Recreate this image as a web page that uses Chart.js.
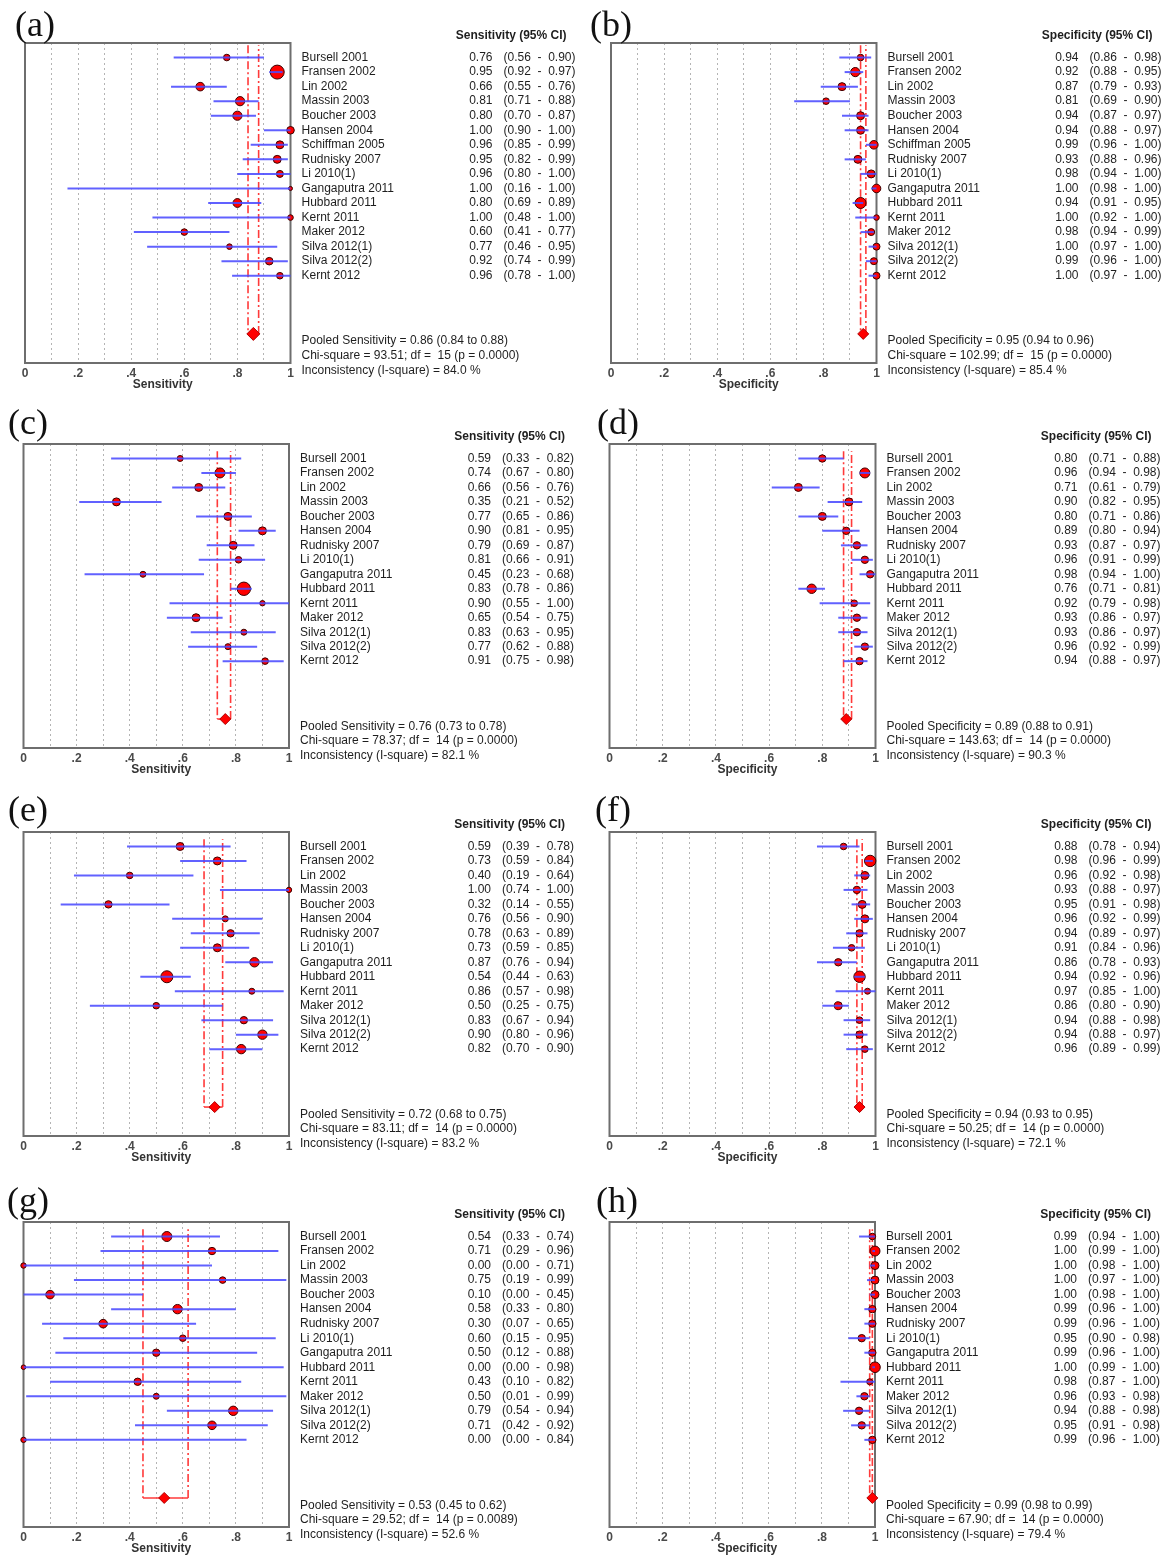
<!DOCTYPE html>
<html><head><meta charset="utf-8">
<script src="https://cdn.jsdelivr.net/npm/chart.js@4.4.1/dist/chart.umd.min.js"></script>
<style>
html,body{margin:0;padding:0;background:#fff;}
#wrap{position:relative;width:1166px;height:1559px;overflow:hidden;background:#fff;}
canvas{position:absolute;}
</style></head><body><div id="wrap"></div>
<script>
// ---------------- DATA ----------------
const studies16 = ['Bursell 2001','Fransen 2002','Lin 2002','Massin 2003','Boucher 2003','Hansen 2004','Schiffman 2005','Rudnisky 2007','Li 2010(1)','Gangaputra 2011','Hubbard 2011','Kernt 2011','Maker 2012','Silva 2012(1)','Silva 2012(2)','Kernt 2012'];
const studies15 = ['Bursell 2001','Fransen 2002','Lin 2002','Massin 2003','Boucher 2003','Hansen 2004','Rudnisky 2007','Li 2010(1)','Gangaputra 2011','Hubbard 2011','Kernt 2011','Maker 2012','Silva 2012(1)','Silva 2012(2)','Kernt 2012'];
const xTickLabels = ['0','.2','.4','.6','.8','1'];

// (a) sensitivity
const aVal = [0.76,0.95,0.66,0.81,0.80,1.00,0.96,0.95,0.96,1.00,0.80,1.00,0.60,0.77,0.92,0.96];
const aLo  = [0.56,0.92,0.55,0.71,0.70,0.90,0.85,0.82,0.80,0.16,0.69,0.48,0.41,0.46,0.74,0.78];
const aHi  = [0.90,0.97,0.76,0.88,0.87,1.00,0.99,0.99,1.00,1.00,0.89,1.00,0.77,0.95,0.99,1.00];
const aWeight = [3.3,7,4.3,4.6,4.6,3.8,4,4,3.5,2,4.4,2.8,3.3,2.8,3.8,3.3];
// (b) specificity
const bVal = [0.94,0.92,0.87,0.81,0.94,0.94,0.99,0.93,0.98,1.00,0.94,1.00,0.98,1.00,0.99,1.00];
const bLo  = [0.86,0.88,0.79,0.69,0.87,0.88,0.96,0.88,0.94,0.98,0.91,0.92,0.94,0.97,0.96,0.97];
const bHi  = [0.98,0.95,0.93,0.90,0.97,0.97,1.00,0.96,1.00,1.00,0.95,1.00,0.99,1.00,1.00,1.00];
const bWeight = [3.3,4.6,4,3.3,4,4,4.3,4,4,4.3,5.5,2.8,3.5,3.5,3.5,3.5];
// (c) sensitivity
const cVal = [0.59,0.74,0.66,0.35,0.77,0.90,0.79,0.81,0.45,0.83,0.90,0.65,0.83,0.77,0.91];
const cLo  = [0.33,0.67,0.56,0.21,0.65,0.81,0.69,0.66,0.23,0.78,0.55,0.54,0.63,0.62,0.75];
const cHi  = [0.82,0.80,0.76,0.52,0.86,0.95,0.87,0.91,0.68,0.86,1.00,0.75,0.95,0.88,0.98];
const cWeight = [3,5,4,4,4,4,4,3.3,3,6.7,2.7,4,3,3,3.3];
// (d) specificity
const dVal = [0.80,0.96,0.71,0.90,0.80,0.89,0.93,0.96,0.98,0.76,0.92,0.93,0.93,0.96,0.94];
const dLo  = [0.71,0.94,0.61,0.82,0.71,0.80,0.87,0.91,0.94,0.71,0.79,0.86,0.86,0.92,0.88];
const dHi  = [0.88,0.98,0.79,0.95,0.86,0.94,0.97,0.99,1.00,0.81,0.98,0.97,0.97,0.99,0.97];
const dWeight = [3.7,5,4,4,4,3.7,3.7,3.7,3.7,4.7,3.3,3.7,3.7,3.7,3.7];
// (e) sensitivity
const eVal = [0.59,0.73,0.40,1.00,0.32,0.76,0.78,0.73,0.87,0.54,0.86,0.50,0.83,0.90,0.82];
const eLo  = [0.39,0.59,0.19,0.74,0.14,0.56,0.63,0.59,0.76,0.44,0.57,0.25,0.67,0.80,0.70];
const eHi  = [0.78,0.84,0.64,1.00,0.55,0.90,0.89,0.85,0.94,0.63,0.98,0.75,0.94,0.96,0.90];
const eWeight = [4,4,3.3,2.7,3.7,3,3.7,4,4.7,6,3,3.3,3.7,4.7,4.7];
// (f) specificity
const fVal = [0.88,0.98,0.96,0.93,0.95,0.96,0.94,0.91,0.86,0.94,0.97,0.86,0.94,0.94,0.96];
const fLo  = [0.78,0.96,0.92,0.88,0.91,0.92,0.89,0.84,0.78,0.92,0.85,0.80,0.88,0.88,0.89];
const fHi  = [0.94,0.99,0.98,0.97,0.98,0.99,0.97,0.96,0.93,0.96,1.00,0.90,0.98,0.97,0.99];
const fWeight = [3.3,5.7,4,3.7,4,4,3.7,3.3,3.7,5.7,3,4,3.3,3.7,3.3];
// (g) sensitivity
const gVal = [0.54,0.71,0.00,0.75,0.10,0.58,0.30,0.60,0.50,0.00,0.43,0.50,0.79,0.71,0.00];
const gLo  = [0.33,0.29,0.00,0.19,0.00,0.33,0.07,0.15,0.12,0.00,0.10,0.01,0.54,0.42,0.00];
const gHi  = [0.74,0.96,0.71,0.99,0.45,0.80,0.65,0.95,0.88,0.98,0.82,0.99,0.94,0.92,0.84];
const gWeight = [5,3.7,2.7,3.3,4.3,4.7,4.3,3.3,3.7,2.3,3.7,3,4.7,4.3,2.7];
// (h) specificity
const hVal = [0.99,1.00,1.00,1.00,1.00,0.99,0.99,0.95,0.99,1.00,0.98,0.96,0.94,0.95,0.99];
const hLo  = [0.94,0.99,0.98,0.97,0.98,0.96,0.96,0.90,0.96,0.99,0.87,0.93,0.88,0.91,0.96];
const hHi  = [1.00,1.00,1.00,1.00,1.00,1.00,1.00,0.98,1.00,1.00,1.00,0.98,0.98,0.98,1.00];
const hWeight = [3.3,5,4,4,4,3.7,3.7,3.7,3.7,5.3,3,3.7,3.7,3.7,3.7];

// pooled estimates, panels a..h
const pooledVal = [0.86,0.95,0.76,0.89,0.72,0.94,0.53,0.99];
const pooledLo  = [0.84,0.94,0.73,0.88,0.68,0.93,0.45,0.98];
const pooledHi  = [0.88,0.96,0.78,0.91,0.75,0.95,0.62,0.99];
const chiSquare = ['93.51','102.99','78.37','143.63','83.11','50.25','29.52','67.90'];
const dfValues  = [15,15,14,14,14,14,14,14];
const pValues   = ['0.0000','0.0000','0.0000','0.0000','0.0000','0.0000','0.0089','0.0000'];
const iSquare   = ['84.0','85.4','82.1','90.3','83.2','72.1','52.6','79.4'];

// ---------------- LAYOUT ----------------
const panels = [
  {label:'(a)', measure:'Sensitivity', names:studies16, val:aVal, lo:aLo, hi:aHi, w:aWeight},
  {label:'(b)', measure:'Specificity', names:studies16, val:bVal, lo:bLo, hi:bHi, w:bWeight},
  {label:'(c)', measure:'Sensitivity', names:studies15, val:cVal, lo:cLo, hi:cHi, w:cWeight},
  {label:'(d)', measure:'Specificity', names:studies15, val:dVal, lo:dLo, hi:dHi, w:dWeight},
  {label:'(e)', measure:'Sensitivity', names:studies15, val:eVal, lo:eLo, hi:eHi, w:eWeight},
  {label:'(f)', measure:'Specificity', names:studies15, val:fVal, lo:fLo, hi:fHi, w:fWeight},
  {label:'(g)', measure:'Sensitivity', names:studies15, val:gVal, lo:gLo, hi:gHi, w:gWeight},
  {label:'(h)', measure:'Specificity', names:studies15, val:hVal, lo:hLo, hi:hHi, w:hWeight}
];
// plot-box geometry (page pixels) and panel-label placement
const geom = [
  {col:0,   l:25,    r:290.5, t:43,   b:363,  labX:15,  labY:35.5,  lineTop:-0.85, dia:6.5},
  {col:583, l:611,   r:876.5, t:43,   b:363,  labX:590, labY:35.5,  lineTop:-0.85, dia:5.5},
  {col:0,   l:23.5,  r:289,   t:444,  b:748,  labX:8,   labY:433.5, lineTop:-0.5,  dia:5.5},
  {col:583, l:609.5, r:875.5, t:444,  b:748,  labX:597, labY:433.5, lineTop:-0.5,  dia:5.5},
  {col:0,   l:23.5,  r:289,   t:832,  b:1136, labX:8,   labY:821,   lineTop:-0.5,  dia:5.5},
  {col:583, l:609.5, r:875.5, t:832,  b:1136, labX:595, labY:821,   lineTop:-0.5,  dia:5.5},
  {col:0,   l:23.5,  r:289,   t:1222, b:1527, labX:7,   labY:1211.5,lineTop:-0.5,  dia:5.5},
  {col:583, l:609.5, r:875,   t:1222, b:1527, labX:596, labY:1211.5,lineTop:-0.5,  dia:5.5}
];
const TOPPAD = 43, AXISH = 28, COLW = 583;
const SANS = '"Liberation Sans", Arial, Helvetica, sans-serif';

const f2 = v => v.toFixed(2);

const boxPlugin = {
  id: 'forestBox',
  beforeDatasetsDraw(chart) {
    const {ctx, chartArea:{left,right,top,bottom}} = chart;
    ctx.save();
    ctx.strokeStyle = '#6e6e6e';
    ctx.lineWidth = 2;
    ctx.strokeRect(left, top, right-left, bottom-top);
    ctx.restore();
  }
};

const textPlugin = {
  id: 'forestText',
  afterDraw(chart, args, o) {
    const p = o.panel, k = o.k, g = o.geom;
    const {ctx, chartArea:{left, right, bottom}, scales:{y}} = chart;
    const n = p.names.length;
    ctx.save();
    // axis title
    ctx.fillStyle = '#333';
    ctx.textBaseline = 'middle';
    ctx.textAlign = 'center';
    ctx.font = 'bold 12px ' + SANS;
    ctx.fillText(p.measure, (left + right) / 2 + 5, bottom + 22);
    // header
    ctx.fillStyle = '#1e1e1e';
    ctx.textAlign = 'right';
    ctx.fillText(p.measure + ' (95% CI)', right + 276, y.getPixelForValue(-1.5));
    ctx.font = '12px ' + SANS;
    p.names.forEach((nm, i) => {
      const py = y.getPixelForValue(i);
      ctx.textAlign = 'left';
      ctx.fillText(nm, right + 11, py);
      ctx.textAlign = 'right';
      ctx.fillText(f2(p.val[i]), right + 202, py);
      ctx.textAlign = 'left';
      ctx.fillText('(' + f2(p.lo[i]) + '  -  ' + f2(p.hi[i]) + ')', right + 213, py);
    });
    const d = n + 3;
    ctx.textAlign = 'left';
    ctx.fillText('Pooled ' + p.measure + ' = ' + f2(pooledVal[k]) + ' (' + f2(pooledLo[k]) + ' to ' + f2(pooledHi[k]) + ')', right + 11, y.getPixelForValue(d + 0.5));
    ctx.fillText('Chi-square = ' + chiSquare[k] + '; df =  ' + dfValues[k] + ' (p = ' + pValues[k] + ')', right + 11, y.getPixelForValue(d + 1.5));
    ctx.fillText('Inconsistency (I-square) = ' + iSquare[k] + ' %', right + 11, y.getPixelForValue(d + 2.5));
    // panel label
    ctx.font = '36px "Liberation Serif", "Times New Roman", serif';
    ctx.fillStyle = '#111';
    ctx.textBaseline = 'alphabetic';
    ctx.fillText(p.label, g.labX - g.col, g.labY - (g.t - TOPPAD));
    ctx.restore();
  }
};

const wrap = document.getElementById('wrap');
panels.forEach((p, k) => {
  const g = geom[k];
  const n = p.names.length;
  const cv = document.createElement('canvas');
  const H = (g.b - g.t) + TOPPAD + AXISH;
  cv.width = COLW; cv.height = H;
  cv.style.left = g.col + 'px';
  cv.style.top = (g.t - TOPPAD) + 'px';
  cv.style.width = COLW + 'px'; cv.style.height = H + 'px';
  wrap.appendChild(cv);

  const datasets = [];
  // confidence-interval lines (drawn on top)
  p.names.forEach((nm, i) => {
    datasets.push({
      type: 'line', label: nm + ' CI',
      data: [{x: p.lo[i], y: i}, {x: p.hi[i], y: i}],
      borderColor: 'rgba(75,75,255,0.88)', borderWidth: 2,
      pointRadius: 0, fill: false, clip: false, order: 0
    });
  });
  // study estimates
  datasets.push({
    type: 'scatter', label: 'estimate',
    data: p.val.map((v, i) => ({x: v, y: i})),
    pointRadius: p.w, pointHoverRadius: p.w,
    backgroundColor: '#ff0000', borderColor: '#3a0000', borderWidth: 1,
    clip: false, order: 1
  });
  // pooled diamond
  datasets.push({
    type: 'scatter', label: 'pooled',
    data: [{x: pooledVal[k], y: n + 3}],
    pointStyle: 'rectRot', pointRadius: g.dia, pointHoverRadius: g.dia,
    backgroundColor: '#ff0000', borderColor: '#b00000', borderWidth: 1,
    clip: false, order: 0
  });
  // pooled CI bracket
  datasets.push({
    type: 'line', label: 'pooled CI',
    data: [{x: pooledLo[k], y: g.lineTop}, {x: pooledLo[k], y: n + 3}, {x: pooledHi[k], y: n + 3}, {x: pooledHi[k], y: g.lineTop}],
    borderColor: '#ff3a3a', borderWidth: 1.6, pointRadius: 0, fill: false, clip: false,
    borderDash: [8, 3, 2, 3],
    segment: { borderDash: ctx => ctx.p0DataIndex === 1 ? [] : [8, 3, 2, 3] },
    order: 3
  });

  new Chart(cv, {
    type: 'scatter',
    data: { datasets },
    options: {
      responsive: false, animation: false, events: [],
      devicePixelRatio: 1,
      layout: { padding: { top: TOPPAD, bottom: 0, left: g.l - g.col, right: g.col + COLW - g.r } },
      plugins: {
        legend: { display: false }, tooltip: { enabled: false },
        forestText: { panel: p, k: k, geom: g }
      },
      scales: {
        x: {
          type: 'linear', min: 0, max: 1,
          grid: { color: '#b4b4b4', lineWidth: 1, drawTicks: false },
          border: { display: false, dash: [2, 3] },
          ticks: {
            stepSize: 0.1, autoSkip: false, maxRotation: 0, padding: 3,
            color: '#4a4a4a', font: { family: SANS, size: 12, weight: 'bold' },
            callback: v => { const t = Math.round(v * 10); return t % 2 ? '' : xTickLabels[t / 2]; }
          },
          title: { display: false },
          afterFit: s => { s.height = AXISH; }
        },
        y: { type: 'linear', min: -1, max: n + 5, reverse: true, display: false }
      }
    },
    plugins: [boxPlugin, textPlugin]
  });
});
</script>
</body></html>
